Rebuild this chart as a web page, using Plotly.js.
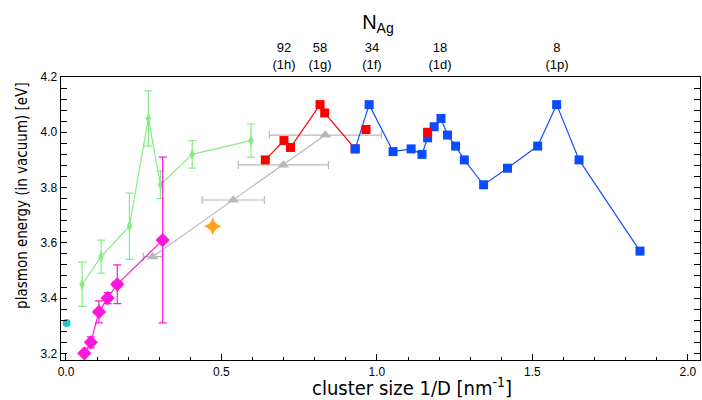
<!DOCTYPE html>
<html><head><meta charset="utf-8">
<script src="https://cdn.plot.ly/plotly-3.0.1.min.js"></script>
<style>body{margin:0;padding:0;background:#fff}#plot{width:702px;height:400px}</style>
</head><body><div id="plot"></div>
<script>
// Green series (with y error bars)
const greenX = [0.052, 0.113, 0.204, 0.265, 0.304, 0.406, 0.595];
const greenY = [3.45, 3.55, 3.66, 4.05, 3.81, 3.92, 3.97];
const greenErr = [0.08, 0.06, 0.12, 0.10, 0.05, 0.05, 0.06];
// Magenta series
const magX = [0.059, 0.080, 0.106, 0.134, 0.165, 0.311];
const magY = [3.20, 3.24, 3.35, 3.40, 3.45, 3.61];
const magYErr = [0, 0.02, 0.04, 0.02, 0.07, 0.30];
const magXErr = [0, 0.005, 0.005, 0.01, 0.014, 0];
// Gray series (x error bars)
const grayX = [0.279, 0.538, 0.699, 0.834];
const grayY = [3.55, 3.755, 3.882, 3.99];
const grayXErr = [0.03, 0.10, 0.145, 0.18];
// Single points
const cyanX = [0.002]; const cyanY = [3.31];
const orangeX = [0.472]; const orangeY = [3.66];
// Red series (connected) and extra red points
const redX = [0.641, 0.701, 0.722, 0.817, 0.832, 0.930];
const redY = [3.90, 3.97, 3.945, 4.10, 4.07, 3.94];
const redPtsX = [0.965, 1.163];
const redPtsY = [4.01, 4.00];
// Blue series
const blueX = [0.930, 0.975, 1.052, 1.110, 1.145, 1.163, 1.184, 1.206, 1.227, 1.253, 1.281, 1.343, 1.420, 1.517, 1.578, 1.650, 1.846];
const blueY = [3.94, 4.10, 3.93, 3.94, 3.92, 3.98, 4.02, 4.05, 3.99, 3.95, 3.90, 3.81, 3.87, 3.95, 4.10, 3.90, 3.57];
// Top axis (N_Ag)
const topTickVals = [0.701, 0.817, 0.984, 1.203, 1.579];
const topTickText = ['92<br>(1h)', '58<br>(1g)', '34<br>(1f)', '18<br>(1d)', '8<br>(1p)'];
// Bottom / left tick labels
const xTickVals = [0, 0.5, 1.0, 1.5, 2.0];
const xTickText = ['0.0', '0.5', '1.0', '1.5', '2.0'];
const yTickVals = [3.2, 3.4, 3.6, 3.8, 4.0, 4.2];
const yTickText = ['3.2', '3.4', '3.6', '3.8', '4.0', '4.2'];

const xr = [-0.016, 2.039];
const traces = [
  {x: greenX, y: greenY, mode: 'lines+markers', type: 'scatter',
   line: {color: '#86ec86', width: 1.2},
   marker: {symbol: 'diamond-tall', size: 8, color: '#86ec86'},
   error_y: {type: 'data', array: greenErr, visible: true, color: '#86ec86', thickness: 1.2, width: 4}},
  {x: grayX, y: grayY, mode: 'lines+markers', type: 'scatter',
   line: {color: '#b8b8b8', width: 1.2},
   marker: {symbol: 'triangle-up', size: 10, color: '#b8b8b8'},
   error_x: {type: 'data', array: grayXErr, visible: true, color: '#b8b8b8', thickness: 1.2, width: 4}},
  {x: magX, y: magY, mode: 'lines+markers', type: 'scatter',
   line: {color: '#ff14dc', width: 1.2},
   marker: {symbol: 'diamond', size: 11, color: '#ff14dc'},
   error_y: {type: 'data', array: magYErr, visible: true, color: '#ff14dc', thickness: 1.2, width: 4},
   error_x: {type: 'data', array: magXErr, visible: true, color: '#ff14dc', thickness: 1.2, width: 3}},
  {x: cyanX, y: cyanY, mode: 'markers', type: 'scatter',
   marker: {symbol: 'circle', size: 8, color: '#1cc8cc'}},
  {x: orangeX, y: orangeY, mode: 'markers', type: 'scatter',
   marker: {symbol: 'star-diamond', size: 13, color: '#ffa31a'}},
  {x: redX, y: redY, mode: 'lines+markers', type: 'scatter',
   line: {color: '#ff0000', width: 1.2},
   marker: {symbol: 'square', size: 9, color: '#ff0000'}},
  {x: blueX, y: blueY, mode: 'lines+markers', type: 'scatter',
   line: {color: '#1450ff', width: 1.2},
   marker: {symbol: 'square', size: 9, color: '#0a4cff'}},
  {x: redPtsX, y: redPtsY, mode: 'markers', type: 'scatter',
   marker: {symbol: 'square', size: 9, color: '#ff0000'}},
  {x: [], y: [], xaxis: 'x2', type: 'scatter', mode: 'markers'}
];

const fam = 'Liberation Sans, Arial, sans-serif';
const narrow = 'Liberation Sans Narrow, Arial Narrow, DejaVu Sans Condensed, Liberation Sans, sans-serif';
const layout = {
  width: 702, height: 400,
  margin: {l: 61, r: 2, t: 77, b: 40},
  paper_bgcolor: '#fff', plot_bgcolor: '#fff',
  showlegend: false,
  font: {family: fam, color: '#000'},
  title: {text: 'N<sub>Ag</sub>', font: {family: fam, size: 20, color: '#000'},
          xref: 'paper', x: 0.496, xanchor: 'center', yref: 'container', y: 0.945, yanchor: 'middle'},
  xaxis: {range: xr, showgrid: false, zeroline: false,
          showline: true, linecolor: '#000', linewidth: 1.3, mirror: true,
          ticks: 'inside', ticklen: 6, tickcolor: '#000', tickwidth: 1,
          tickvals: xTickVals, ticktext: xTickText,
          tickfont: {family: fam, size: 12, color: '#000'},
          minor: {dtick: 0.1, tick0: 0, ticks: 'inside', ticklen: 3, tickcolor: '#000', showgrid: false}},
  xaxis2: {range: xr, overlaying: 'x', side: 'top', showgrid: false, zeroline: false, showline: false,
           ticks: '', tickvals: topTickVals, ticktext: topTickText, ticklabelstandoff: 4,
           tickfont: {family: fam, size: 13, color: '#000'}},
  yaxis: {range: [3.176, 4.2], showgrid: false, zeroline: false,
          showline: true, linecolor: '#000', linewidth: 1.3, mirror: 'allticks',
          ticks: 'inside', ticklen: 6, tickcolor: '#000', tickwidth: 1,
          tickvals: yTickVals, ticktext: yTickText,
          tickfont: {family: fam, size: 12, color: '#000'},
          minor: {dtick: 0.04, tick0: 3.2, ticks: 'inside', ticklen: 3, tickcolor: '#000', showgrid: false}},
  annotations: [
    {text: 'cluster size 1/D [nm<sup>-1</sup>]', showarrow: false, xref: 'paper', yref: 'paper',
     x: 0.549, y: -0.097, xanchor: 'center', yanchor: 'middle',
     font: {family: narrow, size: 20, color: '#000'}},
    {text: 'plasmon energy (in vacuum) [eV]', showarrow: false, xref: 'paper', yref: 'paper', textangle: -90,
     x: -0.061, y: 0.58, xanchor: 'center', yanchor: 'middle',
     font: {family: narrow, size: 15, color: '#000'}}
  ]
};
Plotly.newPlot('plot', traces, layout, {displayModeBar: false, staticPlot: true});
</script></body></html>
